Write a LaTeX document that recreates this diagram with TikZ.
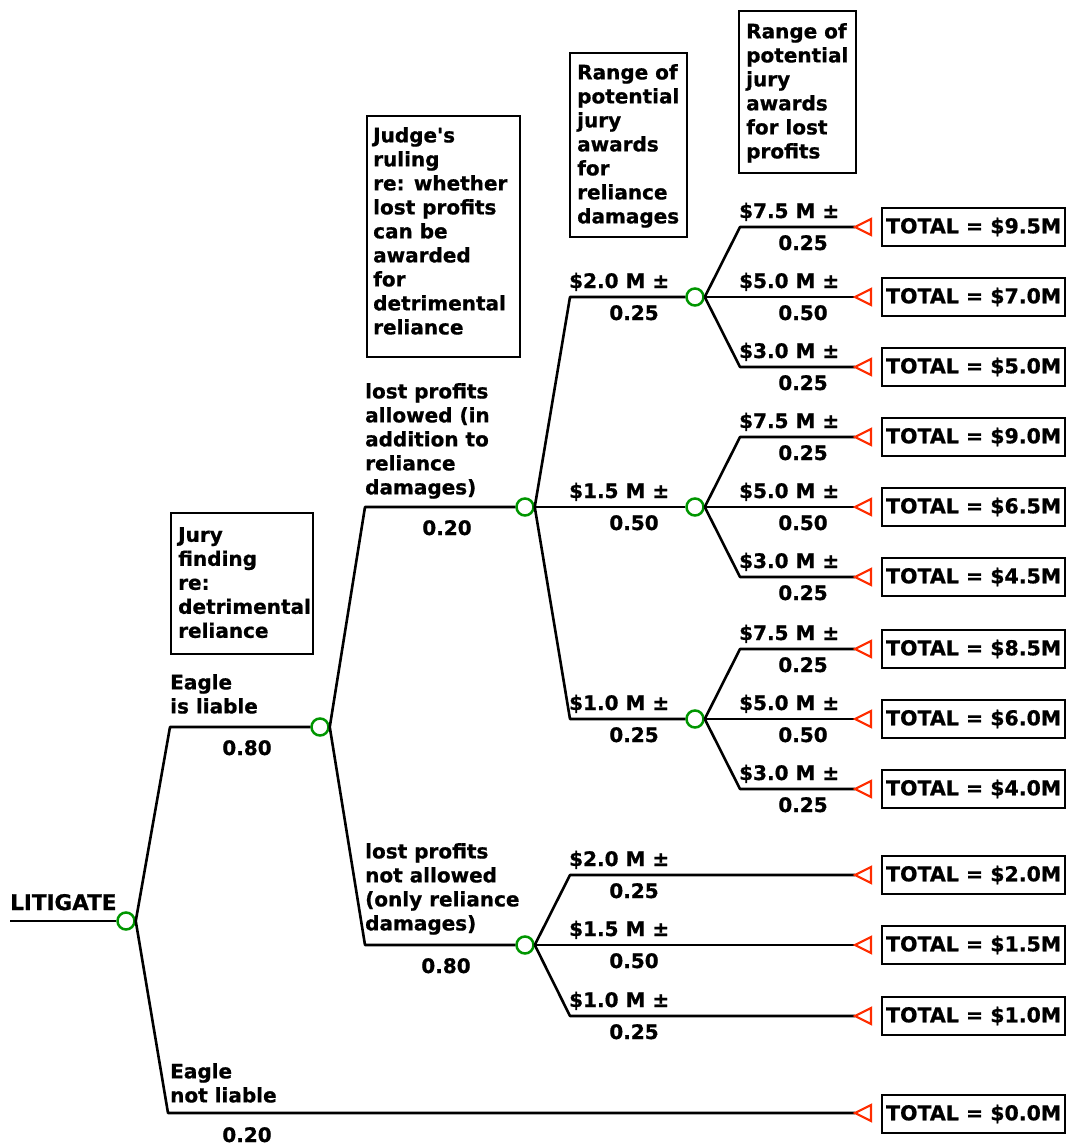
\documentclass[tikz,border=0pt]{standalone}
\usepackage{fontspec}
\setmainfont{DejaVu Sans}[BoldFeatures={FakeBold=0.8}]
\definecolor{cgreen}{RGB}{0,150,0}
\definecolor{cred}{RGB}{255,45,0}
\tikzset{
  br/.style={line width=2.6pt, line join=round},
  chance/.style={circle, draw=cgreen, line width=2.5pt, minimum size=17pt, inner sep=0pt, fill=white},
  term/.style={draw=cred, line width=2.2pt, line join=miter},
  totbox/.style={draw, line width=2.4pt, minimum width=183pt, minimum height=38pt, inner sep=0pt, anchor=west, font=\fontsize{20.5}{22}\selectfont\bfseries},
  lab/.style={inner sep=0pt, font=\fontsize{20}{24}\selectfont\bfseries},
  mlab/.style={lab, align=left, anchor=north west},
  infobox/.style={draw, line width=2.4pt, anchor=north west, inner sep=0pt},
}
\newcommand{\mkleaf}[8]{%
  \coordinate (s#1) at (#3,#4);
  \coordinate (t#1) at (855,#4);
  \draw[br] (#2.east) -- (s#1) -- (t#1);
  \draw[term] (t#1) -- ++(16,-8) -- ++(0,16) -- cycle;
  \node[totbox] (tot#1) at (881,#4) {TOTAL = \$#7M};
  \node[lab, anchor=base west] (v#1) at (#3-1,#4-9) {\$#5 M ±};
  \node[lab, anchor=base] (p#1) at (#8,#4+23) {#6};
}
\begin{document}
\begin{tikzpicture}[x=1pt,y=-1pt]
\useasboundingbox (0,0) rectangle (1068,1146);
% info boxes
\node[infobox, minimum width=142pt, minimum height=141pt] (jurybox) at (170,512) {};
\node[mlab] (jurytext) at (178,527) {Jury\\finding\\re:\\detrimental\\reliance};
\node[infobox, minimum width=153pt, minimum height=241pt] (judgebox) at (366,115) {};
\node[mlab] (judgetext) at (373,127) {Judge\textquotesingle s\\ruling\\re: whether\\lost profits\\can be\\awarded\\for\\detrimental\\reliance};
\node[infobox, minimum width=117pt, minimum height=184pt] (relbox) at (569,52) {};
\node[mlab] (reltext) at (577,64) {Range of\\potential\\jury\\awards\\for\\reliance\\damages};
\node[infobox, minimum width=117pt, minimum height=162pt] (lpbox) at (738,10) {};
\node[mlab] (lptext) at (746,23) {Range of\\potential\\jury\\awards\\for lost\\profits};
% chance nodes
\node[chance] (C0) at (126,921) {};
\node[chance] (C1) at (320,727) {};
\node[chance] (C2) at (525,507) {};
\node[chance] (C3) at (525,945) {};
\node[chance] (D1) at (695,297) {};
\node[chance] (D2) at (695,507) {};
\node[chance] (D3) at (695,719) {};
% root
\coordinate (r0) at (10,921);
\draw[br] (r0) -- (C0);
\node[lab, anchor=base west, font=\fontsize{21.5}{24}\selectfont\bfseries] (lit) at (10,910) {LITIGATE};
% Eagle liable
\coordinate (a1) at (170,727);
\draw[br] (C0.east) -- (a1) -- (C1);
\node[mlab] (el) at (170,674) {Eagle\\is liable};
\node[lab, anchor=base] (elp) at (247,755) {0.80};
% Eagle not liable
\coordinate (a2) at (168,1113);
\coordinate (t0) at (855,1113);
\draw[br] (C0.east) -- (a2) -- (t0);
\draw[term] (t0) -- ++(16,-8) -- ++(0,16) -- cycle;
\node[totbox] (tot0) at (881,1114) {TOTAL = \$0.0M};
\node[mlab] (enl) at (170,1063) {Eagle\\not liable};
\node[lab, anchor=base] (enlp) at (247,1142) {0.20};
% judge ruling branches
\coordinate (b1) at (365,507);
\draw[br] (C1.east) -- (b1) -- (C2);
\node[mlab] (lpa) at (365,383) {lost profits\\allowed (in\\addition to\\reliance\\damages)};
\node[lab, anchor=base] (lpap) at (447,535) {0.20};
\coordinate (b2) at (365,945);
\draw[br] (C1.east) -- (b2) -- (C3);
\node[mlab] (lpn) at (365,843) {lost profits\\not allowed\\(only reliance\\damages)};
\node[lab, anchor=base] (lpnp) at (446,973) {0.80};
% reliance damages (lost profits allowed)
\coordinate (c1) at (570,297);
\draw[br] (C2.east) -- (c1) -- (D1);
\node[lab, anchor=base west] (vc1) at (569,288) {\$2.0 M ±};
\node[lab, anchor=base] (pc1) at (634,320) {0.25};
\coordinate (c2) at (570,507);
\draw[br] (C2.east) -- (c2) -- (D2);
\node[lab, anchor=base west] (vc2) at (569,498) {\$1.5 M ±};
\node[lab, anchor=base] (pc2) at (634,530) {0.50};
\coordinate (c3) at (570,719);
\draw[br] (C2.east) -- (c3) -- (D3);
\node[lab, anchor=base west] (vc3) at (569,710) {\$1.0 M ±};
\node[lab, anchor=base] (pc3) at (634,742) {0.25};
% leaves
\mkleaf{L1}{D1}{740}{227}{7.5}{0.25}{9.5}{803}
\mkleaf{L2}{D1}{740}{297}{5.0}{0.50}{7.0}{803}
\mkleaf{L3}{D1}{740}{367}{3.0}{0.25}{5.0}{803}
\mkleaf{L4}{D2}{740}{437}{7.5}{0.25}{9.0}{803}
\mkleaf{L5}{D2}{740}{507}{5.0}{0.50}{6.5}{803}
\mkleaf{L6}{D2}{740}{577}{3.0}{0.25}{4.5}{803}
\mkleaf{L7}{D3}{740}{649}{7.5}{0.25}{8.5}{803}
\mkleaf{L8}{D3}{740}{719}{5.0}{0.50}{6.0}{803}
\mkleaf{L9}{D3}{740}{789}{3.0}{0.25}{4.0}{803}
\mkleaf{M1}{C3}{570}{875}{2.0}{0.25}{2.0}{634}
\mkleaf{M2}{C3}{570}{945}{1.5}{0.50}{1.5}{634}
\mkleaf{M3}{C3}{570}{1016}{1.0}{0.25}{1.0}{634}
\end{tikzpicture}
\end{document}
